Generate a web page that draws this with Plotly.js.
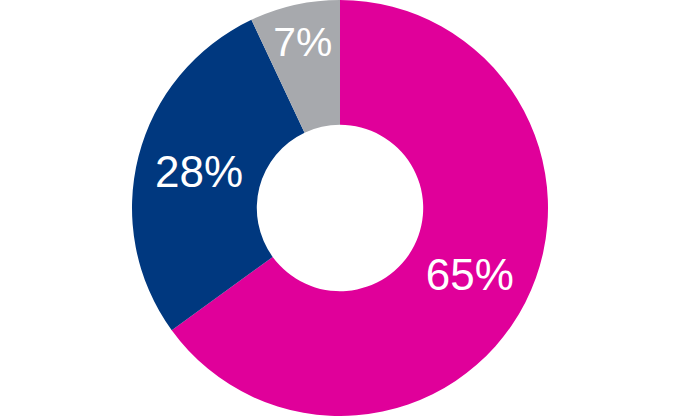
<!DOCTYPE html>
<html>
<head>
<meta charset="utf-8">
<script src="https://cdn.plot.ly/plotly-3.0.1.min.js"></script>
<style>html,body{margin:0;padding:0;background:#fff;}#chart{width:680px;height:416px;}</style>
</head>
<body>
<div id="chart"></div>
<script>
const categories = ["A", "B", "C"];
const values = [65, 28, 7];
const textLabels = ["65%", "28%", "7%"];
const colors = ["#E0009A", "#00387F", "#A7A9AD"];

Plotly.newPlot("chart", [{
  type: "pie",
  labels: categories,
  values: values,
  text: textLabels,
  textinfo: "text",
  hole: 0.4,
  sort: false,
  direction: "clockwise",
  rotation: 0,
  marker: {colors: colors, line: {width: 0}},
  textposition: "inside",
  insidetextorientation: "horizontal",
  insidetextfont: {color: "#ffffff", size: 44, family: "'Liberation Sans', Arial, sans-serif"},
  hoverinfo: "none"
}], {
  width: 680, height: 416,
  margin: {l: 0, r: 0, t: 0, b: 0},
  showlegend: false,
  paper_bgcolor: "#ffffff"
}, {displayModeBar: false, staticPlot: true});
</script>
</body>
</html>
